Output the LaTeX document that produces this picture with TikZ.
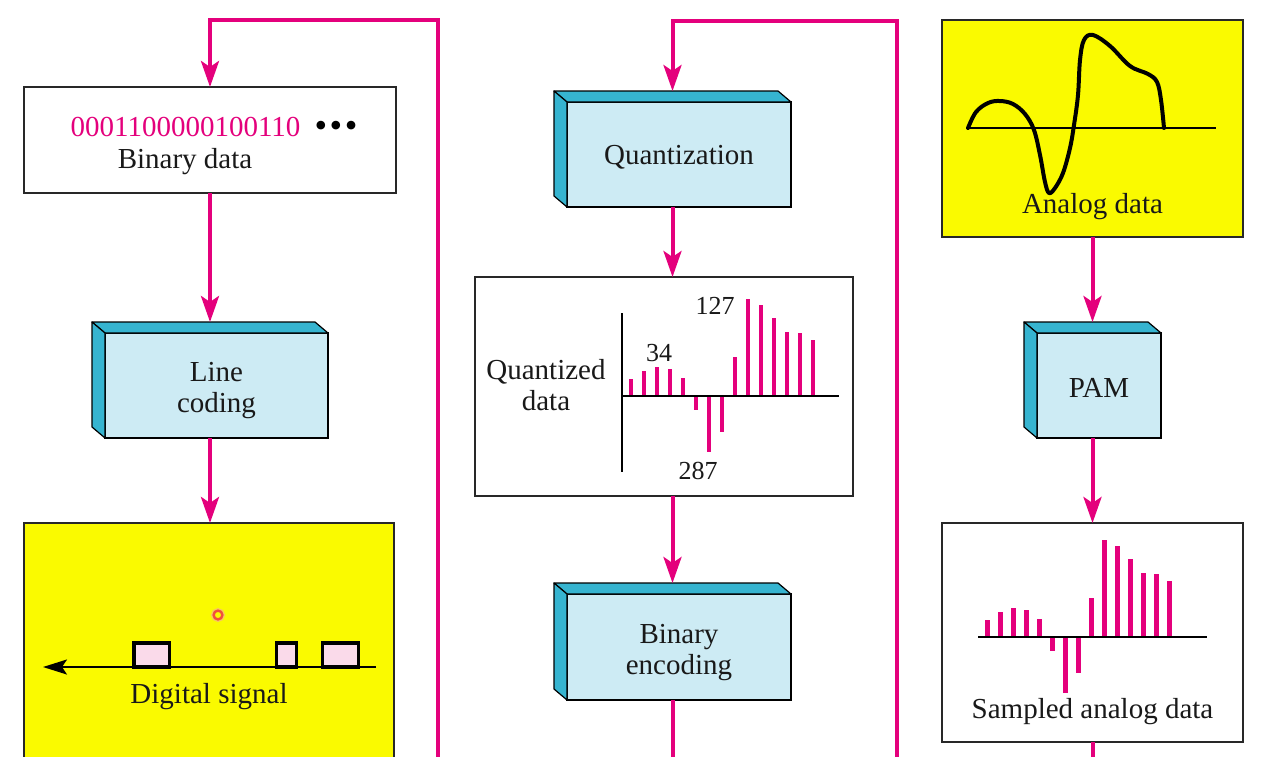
\documentclass[tikz,border=0pt]{standalone}
\usepackage{fontspec}
\setmainfont{Liberation Serif}
\usetikzlibrary{calc,arrows.meta}
\definecolor{flow}{RGB}{228,0,124}
\definecolor{blockfront}{RGB}{205,235,244}
\definecolor{blockside}{RGB}{54,180,208}
\definecolor{sigyellow}{RGB}{250,250,0}
\definecolor{pulsefill}{RGB}{250,218,234}
\definecolor{frame}{RGB}{40,40,40}
\definecolor{spot}{RGB}{240,80,60}
\newcommand{\lbl}{\fontsize{29}{31}\selectfont}
\newcommand{\numlbl}{\fontsize{26}{28}\selectfont}
\newcommand{\dotlbl}{\fontsize{36}{40}\selectfont}
% invisible strut that lowers the text inside a block
\newcommand{\topstrut}[1]{\rule{0pt}{#1}}
% top and left faces of a raised block, plus its entry/exit points
\newcommand{\solidfaces}[1]{%
  \filldraw[fill=blockside,draw=black,line width=1.2pt,line join=round]
    (#1.north west) -- ++(-13,-11) -- ($(#1.north east)+(-13,-11)$) -- (#1.north east) -- cycle;
  \filldraw[fill=blockside,draw=black,line width=1.2pt,line join=round]
    (#1.north west) -- ++(-13,-11) -- ($(#1.south west)+(-13,-11)$) -- (#1.south west) -- cycle;
  \coordinate (#1-in) at ($(#1.north)+(-6.5,-11)$);
  \coordinate (#1-out) at ($(#1.south)+(-6.5,0)$);
}
\begin{document}
\begin{tikzpicture}[x=1pt,y=-1pt,
  flowline/.style={draw=flow,line width=4pt},
  conn/.style={flowline,-{Stealth[length=26pt,width=18pt,inset=6pt]}},
  blk/.style={draw=black,line width=1.2pt,fill=blockfront,align=center,
    font=\lbl,inner sep=0pt,outer sep=0pt,text=black!90},
  plainbox/.style={draw=frame,line width=1.4pt,fill=white,inner sep=0pt,outer sep=0pt},
  yellowbox/.style={draw=frame,line width=1.4pt,fill=sigyellow,inner sep=0pt,outer sep=0pt},
  txt/.style={font=\lbl,inner sep=0pt,text=black!90},
  num/.style={font=\numlbl,inner sep=0pt,text=black!90},
  bar/.style={draw=flow,line width=4.6pt},
  axis/.style={draw=black,line width=2pt},
  pulse/.style={draw=black,line width=3.6pt,fill=pulsefill}
]
\useasboundingbox (0,0) rectangle (1282,756);
\clip (0,0) rectangle (1282,756);
\fill[white] (0,0) rectangle (1282,756);

% ---------- left column: binary data -> line coding -> digital signal
\node[plainbox,minimum width=372pt,minimum height=106pt] (bin) at (210,140) {};
\node[txt,text=flow,anchor=base] (bits) at (185.5,136) {0001100000100110};
\node[font=\dotlbl,inner sep=0pt,anchor=base] (dots) at (336,137)
  {\textbullet\hspace{2.5pt}\textbullet\hspace{2.5pt}\textbullet};
\node[txt,anchor=base] (bintxt) at (185,168) {Binary data};

\node[blk,minimum width=223pt,minimum height=105pt] (lc) at (216.5,385.5) {\topstrut{30pt}Line\\coding};
\solidfaces{lc}

\node[yellowbox,minimum width=370pt,minimum height=300pt] (dig) at (209,673) {};
\draw[spot!50,line width=3pt,opacity=0.6] (218,615) circle (5.5);
\draw[spot,line width=2.4pt] (218,615) circle (4.4);
\draw[axis,-{Stealth[length=24pt,width=15pt,inset=5pt]}] (376,667) -- (43,667);
\draw[pulse] (133.8,643) rectangle (169.5,667);
\draw[pulse] (276.5,643) rectangle (296.5,667);
\draw[pulse] (322.5,643) rectangle (358.5,667);
\node[txt,anchor=base] (digtxt) at (209,703) {Digital signal};

% ---------- middle column: quantization -> quantized data -> binary encoding
\node[blk,minimum width=224pt,minimum height=105pt] (quant) at (679,154.5) {\topstrut{24pt}Quantization};
\solidfaces{quant}

\node[plainbox,minimum width=378pt,minimum height=219pt] (qdata) at (664,386.5) {};
\node[txt,align=center] (qtxt) at (546,385) {Quantized\\data};
\foreach \h [count=\i from 0] in {16.7,25,29.3,27.3,18.3,-14,-55.7,-36.3,38.7,97,91,78.3,64.3,62.7,56}
  \draw[bar] (631+13*\i,396) -- ++(0,{-1*\h});
\draw[axis] (622,313) -- (622,472);
\draw[axis] (622,396) -- (839,396);
\node[num,anchor=base] (n127) at (715,314) {127};
\node[num,anchor=base] (n34) at (659,361) {34};
\node[num,anchor=base] (n287) at (698,479) {287};

\node[blk,minimum width=224pt,minimum height=106pt] (benc) at (679,647) {\topstrut{30pt}Binary\\encoding};
\solidfaces{benc}

% ---------- right column: analog data -> PAM -> sampled analog data
\node[yellowbox,minimum width=301pt,minimum height=217pt] (ana) at (1092.5,128.5) {};
\draw[axis] (968,128) -- (1216,128);
\draw[black,line width=4pt,line cap=round,line join=round]
  plot[smooth,tension=0.6] coordinates {
    (968,128) (976,112) (988,103) (1000,101) (1013,104) (1025,114) (1034,130)
    (1040,155) (1045,182) (1049,193) (1055,188) (1063,173) (1070,148)
    (1074,125) (1078,95) (1080,60) (1084,40) (1093,35) (1110,46) (1130,66)
    (1148,74) (1157,82) (1161,100) (1164,128)};
\node[txt,anchor=base] (anatxt) at (1092.5,213) {Analog data};

\node[blk,minimum width=124pt,minimum height=105pt] (pam) at (1099,385.5) {\topstrut{23pt}PAM};
\solidfaces{pam}

\node[plainbox,minimum width=301pt,minimum height=219pt] (samp) at (1092.5,632.5) {};
\foreach \h [count=\i from 0] in {16.7,25,29.3,27.3,18.3,-14,-55.7,-36.3,38.7,97,91,78.3,64.3,62.7,56}
  \draw[bar] (987.7+13*\i,637) -- ++(0,{-1*\h});
\draw[axis] (978,637) -- (1207,637);
\node[txt,anchor=base] (samptxt) at (1092.5,718) {Sampled analog data};

% ---------- flow connectors
\coordinate (lret) at (438,780);
\coordinate (mret) at (897,780);
\draw[conn] (bin.south) -- (lc-in);
\draw[conn] (lc-out) -- (lc-out |- dig.north);
\draw[conn] (lret) |- ([yshift=67pt]bin.north) -- (bin.north);

\draw[conn] (mret) |- ([yshift=70pt]quant-in) -- (quant-in);
\draw[conn] (quant-out) -- (quant-out |- qdata.north);
\draw[conn] (quant-out |- qdata.south) -- (benc-in);
\draw[flowline] (benc-out) -- (benc-out |- mret);

\draw[conn] (ana.south) -- (pam-in);
\draw[conn] (pam-out) -- (pam-out |- samp.north);
\draw[flowline] (samp.south) -- (samp.south |- mret);
\end{tikzpicture}
\end{document}
